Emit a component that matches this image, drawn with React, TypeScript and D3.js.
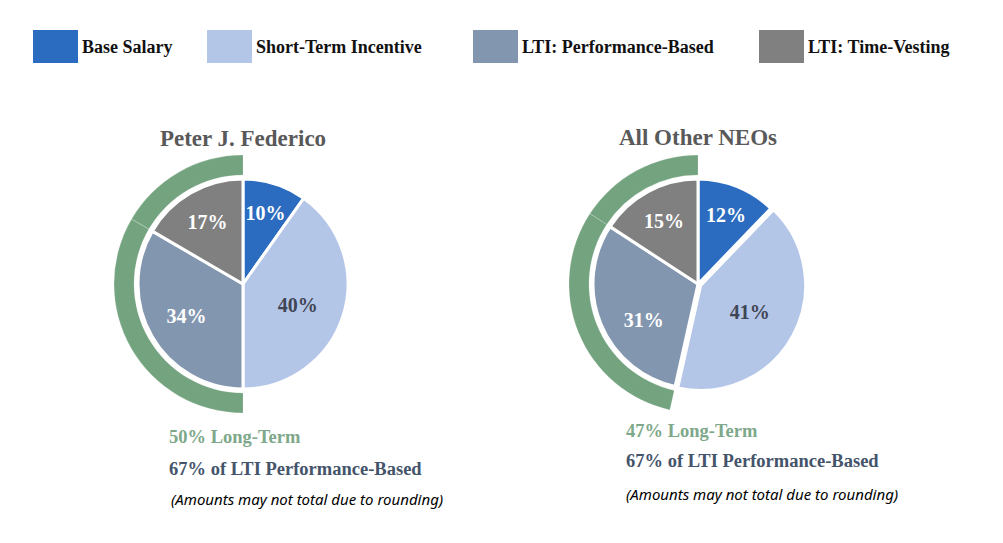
import React from "react";
import * as d3 from "d3";

const categories = ["Base Salary", "Short-Term Incentive", "LTI: Performance-Based", "LTI: Time-Vesting"];
const colors = ["#2B6CC0", "#B4C6E8", "#8396B0", "#808080"];
const titles = ["Peter J. Federico", "All Other NEOs"];
// rounded labels as printed
const federicoLabels = [10, 40, 34, 17];
const otherNeoLabels = [12, 41, 31, 15];
// unrounded shares
const federicoShares = [9.8, 40.2, 33.4, 16.6];
const otherNeoShares = [12.2, 41.3, 30.7, 15.8];
const longTermLabels = ["50% Long-Term", "47% Long-Term"];
const perfLabels = ["67% of LTI Performance-Based", "67% of LTI Performance-Based"];
const note = "(Amounts may not total due to rounding)";

const W = 1003;
const H = 543;
const SERIF = "'Liberation Serif', 'Times New Roman', serif";

const pies = [
  { shares: federicoShares, labels: federicoLabels, cx: 243, cy: 284, titleY: 146, textX: 169, ltY: 443, perfY: 475, noteX: 171, noteY: 505, explode: [0, 0, 0, 0], angleShift: [0, 0.06, 0, 0] },
  { shares: otherNeoShares, labels: otherNeoLabels, cx: 698, cy: 284, titleY: 145, textX: 626, ltY: 437, perfY: 467, noteX: 626, noteY: 500, explode: [0, 3, 0, 0], angleShift: [0, 0, -0.2, 0] },
];

const R = 105;
const RING_IN = 109;
const RING_OUT = 129;
const labelFactor = [0.71, 0.56, 0.62, 0.68];
const labelColors = ["#FFFFFF", "#404555", "#FFFFFF", "#FFFFFF"];

const legendX = [33, 207, 473, 759];

export default function App() {
  const pieGen = d3.pie<number>().sort(null).value((d) => d);
  const arcGen = d3.arc<d3.PieArcDatum<number>>().innerRadius(0).outerRadius(R);
  const ringGen = d3.arc<d3.PieArcDatum<number>>().innerRadius(RING_IN).outerRadius(RING_OUT);

  return (
    <svg width={W} height={H} style={{ position: "absolute", left: 0, top: 0, background: "#fff" }}>
      {categories.map((c, i) => (
        <g key={c}>
          <rect x={legendX[i]} y={30} width={45} height={33} fill={colors[i]} />
          <text x={legendX[i] + 49} y={53} fontFamily={SERIF} fontWeight="bold" fontSize={18} fill="#111">
            {c}
          </text>
        </g>
      ))}
      {pies.map((p, pi) => {
        const arcs = pieGen(p.shares);
        return (
          <g key={pi}>
            <text x={p.cx} y={p.titleY} textAnchor="middle" fontFamily={SERIF} fontWeight="bold" fontSize={23} fill="#595959">
              {titles[pi]}
            </text>
            <g transform={`translate(${p.cx},${p.cy})`}>
              {arcs.slice(2).map((a, i) => (
                <path key={"r" + i} d={ringGen(a) || ""} fill="#73A37F" stroke="rgba(255,255,255,0.25)" strokeWidth={0.8} />
              ))}
              {arcs.map((a, i) => {
                const mid = (a.startAngle + a.endAngle) / 2;
                const ex = p.explode[i];
                const dx = Math.sin(mid) * ex;
                const dy = -Math.cos(mid) * ex;
                return (
                  <path key={i} transform={`translate(${dx},${dy})`} d={arcGen(a) || ""} fill={colors[i]} stroke="#fff" strokeWidth={3} strokeLinejoin="round" />
                );
              })}
              {arcs.map((a, i) => {
                const mid = (a.startAngle + a.endAngle) / 2 + p.angleShift[i];
                const lr = R * labelFactor[i];
                return (
                  <text key={"l" + i} x={Math.sin(mid) * lr} y={-Math.cos(mid) * lr} dy="0.35em" textAnchor="middle" fontFamily={SERIF} fontWeight="bold" fontSize={20} fill={labelColors[i]}>
                    {p.labels[i]}%
                  </text>
                );
              })}
            </g>
            <text x={p.textX} y={p.ltY} fontFamily={SERIF} fontWeight="bold" fontSize={18.5} fill="#7EA88A">
              {longTermLabels[pi]}
            </text>
            <text x={p.textX} y={p.perfY} fontFamily={SERIF} fontWeight="bold" fontSize={18.5} fill="#44546A">
              {perfLabels[pi]}
            </text>
            <text x={p.noteX} y={p.noteY} fontFamily="'Noto Sans', sans-serif" fontStyle="italic" fontSize={15} fill="#000">
              {note}
            </text>
          </g>
        );
      })}
    </svg>
  );
}
